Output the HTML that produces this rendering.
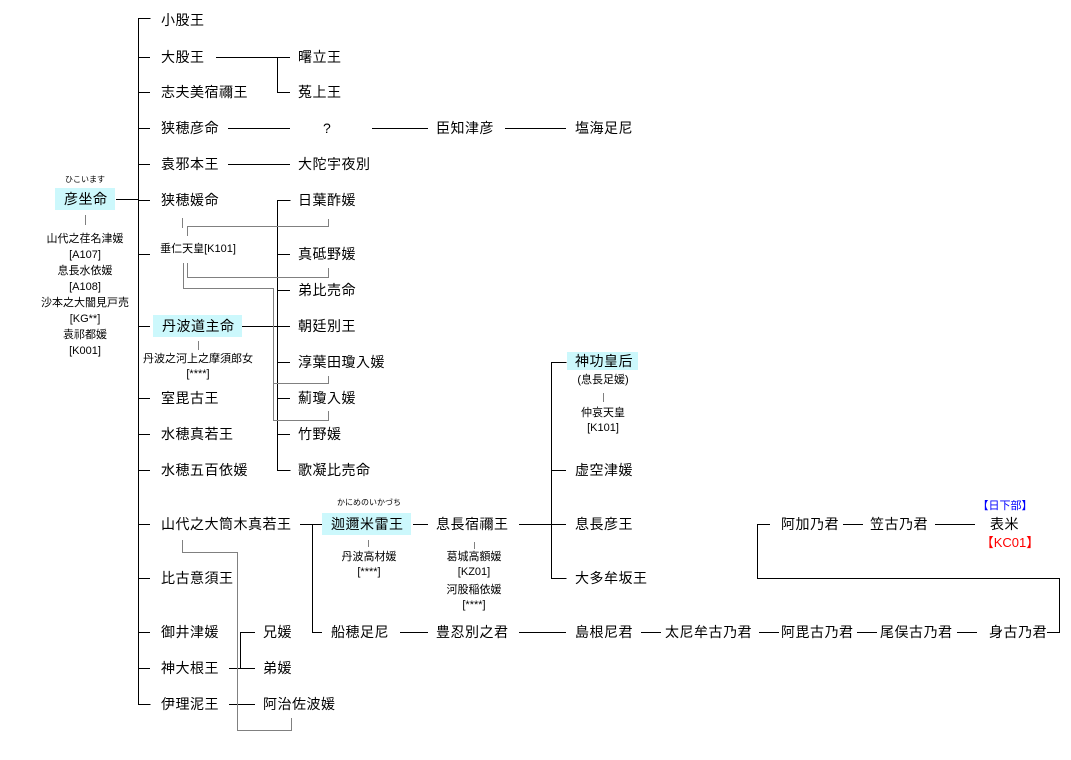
<!DOCTYPE html>
<html><head><meta charset="utf-8"><style>
body{margin:0;background:#fff;width:1071px;height:760px;position:relative;overflow:hidden;font-family:"Liberation Sans","Noto Sans CJK JP",sans-serif;color:#000}
.t{position:absolute;font-size:14px;line-height:18px;white-space:nowrap;letter-spacing:0.5px}
.s{position:absolute;font-size:11px;line-height:15px;white-space:nowrap;text-align:center;transform:translateX(-50%)}
.r{position:absolute;font-size:8px;line-height:10px;white-space:nowrap;transform:translateX(-50%)}
.b{position:absolute;background:#ccf8fc}
svg{position:absolute;left:0;top:0}
</style></head><body>
<div class="b" style="left:55px;top:188px;width:60px;height:22px"></div>
<div class="b" style="left:153px;top:315px;width:89px;height:22px"></div>
<div class="b" style="left:322px;top:513px;width:89px;height:22px"></div>
<div class="b" style="left:567px;top:352px;width:71px;height:18px"></div>
<svg width="1071" height="760">
<g stroke="#000" stroke-width="1" fill="none">
<path d="M150.5 18.5H138.5V704.5H150.5"/>
<path d="M138 57.5H150M138 92.5H150M138 128.5H150M138 164.5H150M138 200.5H150M138 254.5H150M138 326.5H150M138 398.5H150M138 434.5H150M138 470.5H150M138 524.5H150M138 578.5H150M138 632.5H150M138 668.5H150"/>
<path d="M116 199.5H138"/>
<path d="M216 57.5H290M277.5 57V92.5H290"/>
<path d="M228 128.5H290M372 128.5H428M505 128.5H566M228 164.5H290"/>
<path d="M290.5 200.5H277.5V470.5H290.5M277 254.5H290M277 290.5H290M277 326.5H290M277 362.5H290M277 398.5H290M277 434.5H290"/>
<path d="M242 326.5H277"/>
<path d="M300 524.5H322M312.5 524V632.5H322M413 524.5H428M519 524.5H551"/>
<path d="M566.5 362.5H551.5V578.5H566.5M551 470.5H566M551 524.5H566"/>
<path d="M400 632.5H428M519 632.5H566M641 632.5H661M759 632.5H779M857 632.5H877M957 632.5H977M1047 632.5H1059.5V578.5H757.5V524.5H770M843 524.5H863M935 524.5H975"/>
<path d="M229 668.5H255M240.5 668V632.5H255M229 704.5H255"/>
</g>
<g stroke="#808080" stroke-width="1" fill="none">
<path d="M85.5 215V225M198.5 341V350M368.5 540V547M474.5 542V549M603.5 393V402"/>
<path d="M182.5 218V228M187.5 236V226.5H328.5V219"/>
<path d="M187.5 263V277.5H328.5V268M183.5 263V288.5H273.5V420.5H328.5V411M273 383.5H328.5V376"/>
<path d="M182.5 540V552.5H237.5V730.5H291.5V718"/>
</g>
</svg>
<div class="r" style="left:85px;top:175px">ひこいます</div>
<div class="t" style="left:64px;top:190px">彦坐命</div>
<div class="s" style="left:85px;top:231px;line-height:16px">山代之荏名津媛<br>[A107]<br>息長水依媛<br>[A108]<br>沙本之大闇見戸売<br>[KG**]<br>袁祁都媛<br>[K001]</div>
<div class="t" style="left:161px;top:11px">小股王</div>
<div class="t" style="left:161px;top:48px">大股王</div>
<div class="t" style="left:298px;top:48px">曙立王</div>
<div class="t" style="left:161px;top:83px">志夫美宿禰王</div>
<div class="t" style="left:298px;top:83px">菟上王</div>
<div class="t" style="left:161px;top:119px">狭穂彦命</div>
<div class="t" style="left:323px;top:119px">?</div>
<div class="t" style="left:436px;top:119px">臣知津彦</div>
<div class="t" style="left:575px;top:119px">塩海足尼</div>
<div class="t" style="left:161px;top:155px">袁邪本王</div>
<div class="t" style="left:298px;top:155px">大陀宇夜別</div>
<div class="t" style="left:161px;top:191px">狭穂媛命</div>
<div class="s" style="left:198px;top:242px">垂仁天皇[K101]</div>
<div class="t" style="left:298px;top:191px">日葉酢媛</div>
<div class="t" style="left:298px;top:245px">真砥野媛</div>
<div class="t" style="left:298px;top:281px">弟比売命</div>
<div class="t" style="left:162px;top:317px">丹波道主命</div>
<div class="t" style="left:298px;top:317px">朝廷別王</div>
<div class="s" style="left:198px;top:352px">丹波之河上之摩須郎女<br>[****]</div>
<div class="t" style="left:298px;top:353px">淳葉田瓊入媛</div>
<div class="t" style="left:161px;top:389px">室毘古王</div>
<div class="t" style="left:298px;top:389px">薊瓊入媛</div>
<div class="t" style="left:161px;top:425px">水穂真若王</div>
<div class="t" style="left:298px;top:425px">竹野媛</div>
<div class="t" style="left:161px;top:461px">水穂五百依媛</div>
<div class="t" style="left:298px;top:461px">歌凝比売命</div>
<div class="t" style="left:575px;top:352px">神功皇后</div>
<div class="s" style="left:603px;top:373px">(息長足媛)</div>
<div class="s" style="left:603px;top:406px">仲哀天皇<br>[K101]</div>
<div class="t" style="left:575px;top:461px">虚空津媛</div>
<div class="r" style="left:369px;top:498px">かにめのいかづち</div>
<div class="t" style="left:161px;top:515px">山代之大筒木真若王</div>
<div class="t" style="left:331px;top:515px">迦邇米雷王</div>
<div class="t" style="left:436px;top:515px">息長宿禰王</div>
<div class="t" style="left:575px;top:515px">息長彦王</div>
<div class="t" style="left:781px;top:515px">阿加乃君</div>
<div class="t" style="left:870px;top:515px">笠古乃君</div>
<div class="t" style="left:990px;top:515px">表米</div>
<div class="s" style="left:1005px;top:499px;color:#0000ff">【日下部】</div>
<div class="s" style="left:1010px;top:535px;color:#ff0000;font-size:13px;line-height:16px">【KC01】</div>
<div class="s" style="left:369px;top:550px">丹波高材媛<br>[****]</div>
<div class="s" style="left:474px;top:550px">葛城高額媛<br>[KZ01]</div>
<div class="s" style="left:474px;top:583px">河股稲依媛<br>[****]</div>
<div class="t" style="left:161px;top:569px">比古意須王</div>
<div class="t" style="left:575px;top:569px">大多牟坂王</div>
<div class="t" style="left:161px;top:623px">御井津媛</div>
<div class="t" style="left:263px;top:623px">兄媛</div>
<div class="t" style="left:331px;top:623px">船穂足尼</div>
<div class="t" style="left:436px;top:623px">豊忍別之君</div>
<div class="t" style="left:575px;top:623px">島根尼君</div>
<div class="t" style="left:665px;top:623px">太尼牟古乃君</div>
<div class="t" style="left:781px;top:623px">阿毘古乃君</div>
<div class="t" style="left:880px;top:623px">尾俣古乃君</div>
<div class="t" style="left:989px;top:623px">身古乃君</div>
<div class="t" style="left:161px;top:659px">神大根王</div>
<div class="t" style="left:263px;top:659px">弟媛</div>
<div class="t" style="left:161px;top:695px">伊理泥王</div>
<div class="t" style="left:263px;top:695px">阿治佐波媛</div>
</body></html>
